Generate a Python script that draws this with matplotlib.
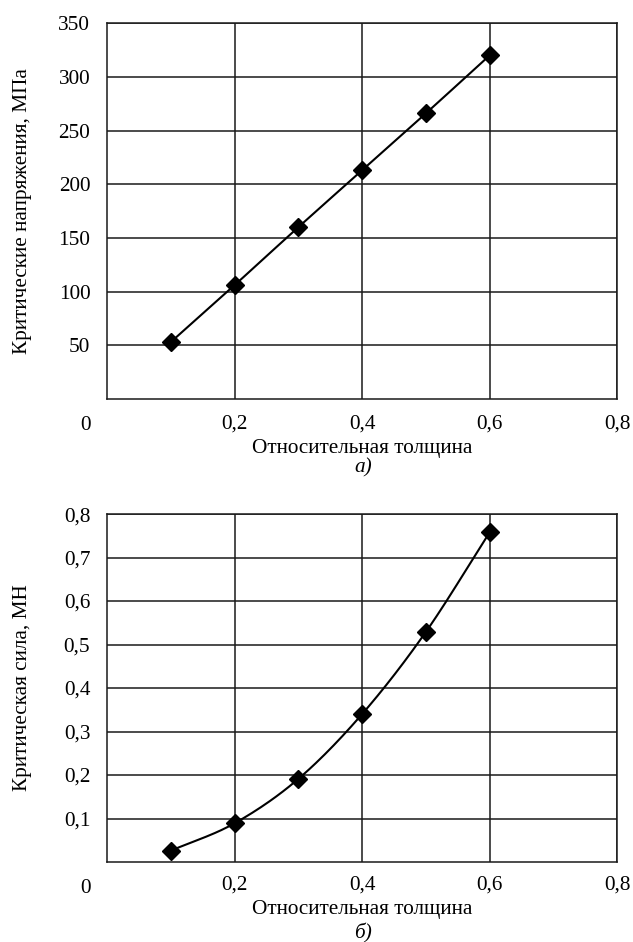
import numpy as np
import matplotlib
matplotlib.use("Agg")
import matplotlib.pyplot as plt

plt.rcParams['font.family'] = ['Liberation Serif', 'DejaVu Serif']

# Данные
tolshchina = [0.1, 0.2, 0.3, 0.4, 0.5, 0.6]
napryazheniya = [53, 106, 160, 213, 266, 320]      # МПа
sila = [0.026, 0.089, 0.191, 0.340, 0.529, 0.758]  # МН

x_ticks = [0.2, 0.4, 0.6, 0.8]
x_labels = ["0,2", "0,4", "0,6", "0,8"]
y1_ticks = [50, 100, 150, 200, 250, 300, 350]
y2_ticks = [0.1, 0.2, 0.3, 0.4, 0.5, 0.6, 0.7, 0.8]

FS = 15.3


def sglazhivanie(x, y, n=30):
    # сглаженная линия как в Excel (Catmull-Rom между точками)
    x = np.asarray(x, float)
    y = np.asarray(y, float)
    px = np.concatenate([[2 * x[0] - x[1]], x, [2 * x[-1] - x[-2]]])
    py = np.concatenate([[2 * y[0] - y[1]], y, [2 * y[-1] - y[-2]]])
    xs, ys = [], []
    t = np.linspace(0, 1, n)
    for i in range(1, len(px) - 2):
        for p, out in ((px, xs), (py, ys)):
            p0, p1, p2, p3 = p[i - 1], p[i], p[i + 1], p[i + 2]
            out.extend(0.5 * (2 * p1 + (-p0 + p2) * t
                              + (2 * p0 - 5 * p1 + 4 * p2 - p3) * t ** 2
                              + (-p0 + 3 * p1 - 3 * p2 + p3) * t ** 3))
    return xs, ys


def oformit(ax, y_ticks, y_fmt, ylabel, ymax, h_px, tick_dy, label_dy):
    ax.set_xlim(0, 0.8)
    ax.set_ylim(0, ymax)
    ax.set_xticks(x_ticks)
    ax.set_xticklabels(x_labels)
    ax.set_yticks(y_ticks)
    ax.set_yticklabels([y_fmt(v) for v in y_ticks])
    ax.tick_params(length=0, labelsize=FS, pad=12)
    ax.tick_params(axis='x', pad=tick_dy)
    ax.grid(True, color='#1a1a1a', linewidth=1.1)
    ax.set_axisbelow(True)
    for s in ax.spines.values():
        s.set_color('#1a1a1a')
        s.set_linewidth(1.1)
    ax.set_xlabel("Относительная толщина", fontsize=FS)
    ax.xaxis.label.set_va('center')
    ax.xaxis.set_label_coords(0.5, -label_dy / h_px)
    ax.set_ylabel(ylabel, fontsize=FS)
    ax.yaxis.label.set_va('center')
    ax.yaxis.set_label_coords(-84 / 510, 0.5)
    ax.annotate("0", xy=(0, 0), xycoords='axes fraction', xytext=(-15.8, -19),
                textcoords='offset points', ha='center', va='center', fontsize=FS)


fig = plt.figure(figsize=(6.33, 9.42), dpi=100)
ax1 = fig.add_axes([0.169, 0.5764, 0.806, 0.399])
ax2 = fig.add_axes([0.169, 0.0849, 0.806, 0.3694])

# а) критические напряжения
xs, ys = sglazhivanie(tolshchina, napryazheniya)
ax1.plot(xs, ys, color='black', linewidth=1.5, zorder=3)
ax1.plot(tolshchina, napryazheniya, linestyle='none', marker='D', markersize=9,
         color='black', zorder=4)
oformit(ax1, y1_ticks, lambda v: str(v), "Критические напряжения, МПа", 350, 376, 11, 49)

# б) критическая сила
xs, ys = sglazhivanie(tolshchina, sila)
ax2.plot(xs, ys, color='black', linewidth=1.5, zorder=3)
ax2.plot(tolshchina, sila, linestyle='none', marker='D', markersize=9,
         color='black', zorder=4)
oformit(ax2, y2_ticks, lambda v: f"{v:.1f}".replace(".", ","), "Критическая сила, МН", 0.8, 348, 10, 47)

fig.text(363 / 633, 1 - 468 / 942, "а)", style='italic', fontsize=FS, ha='center', va='center')
fig.text(363 / 633, 1 - 933 / 942, "б)", style='italic', fontsize=FS, ha='center', va='center')

fig.savefig("out.png", dpi=100, facecolor='white')
